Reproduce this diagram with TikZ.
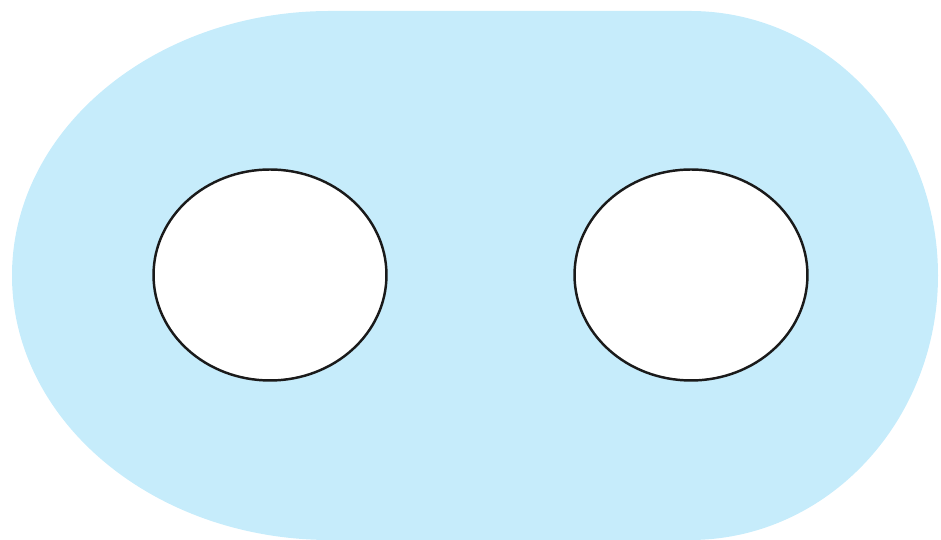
\documentclass[tikz,border=0pt]{standalone}
\usepackage{tikz}
\usetikzlibrary{shapes.geometric}
\definecolor{padblue}{HTML}{C6ECFB}
\definecolor{holeline}{HTML}{1A1A1A}

\begin{document}
\begin{tikzpicture}[
      x=0.02cm, y=0.02cm,
      pad/.style={fill=padblue},
      hole/.style={ellipse, draw=holeline, line width=1.4pt, fill=white,
                   inner sep=0pt, minimum width=4.66cm, minimum height=4.22cm}
    ]
    \useasboundingbox (0,0) rectangle (941,540);
    % ------------- blue pad -------------
    \fill[pad] (330,529) -- (690,529)
      arc[start angle=90, end angle=-90, x radius=248, y radius=264.5]
      -- (330,0)
      arc[start angle=270, end angle=90, x radius=318, y radius=264.5] -- cycle;
    % ------------- two holes -------------
    \node[hole] (holeL) at (270,265) {};
    \node[hole] (holeR) at (691,265) {};
  \end{tikzpicture}
\end{document}
